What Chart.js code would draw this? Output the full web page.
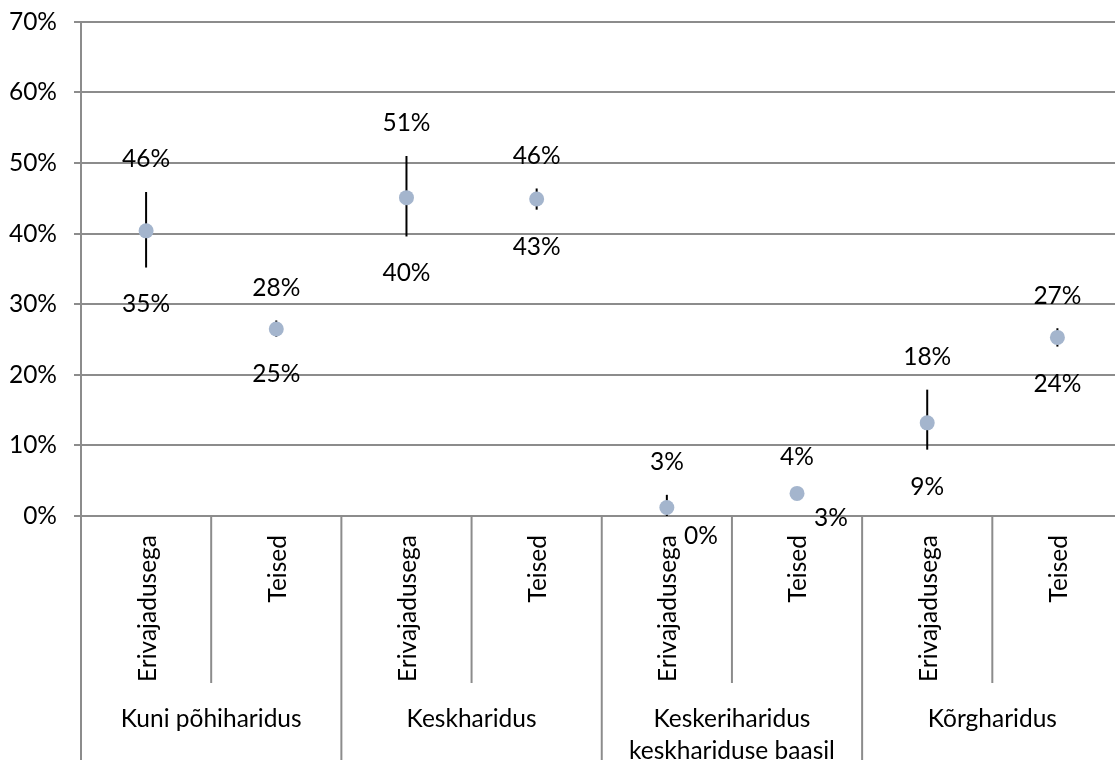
<!DOCTYPE html>
<html><head><meta charset="utf-8">
<script src="https://cdn.jsdelivr.net/npm/chart.js@4.4.1/dist/chart.umd.min.js"></script>
<style>html,body{margin:0;padding:0;overflow:hidden;background:#fff}
#wrap{position:relative;width:1130px;height:760px}</style></head>
<body><div id="wrap"><canvas id="c"></canvas></div>
<script>
// ---- data ----
const groups = [['Kuni põhiharidus'], ['Keskharidus'], ['Keskeriharidus', 'keskhariduse baasil'], ['Kõrgharidus']];
const subgroups = ['Erivajadusega', 'Teised'];
const values = [40.4, 26.5, 45.1, 44.9, 1.2, 3.2, 13.2, 25.3];
const upper  = [45.9, 27.7, 51.0, 46.4, 3.0, 3.8, 17.9, 26.6];
const lower  = [35.2, 25.4, 39.6, 43.4, 0.0, 2.6, 9.4, 24.0];
const yTicks = [0, 10, 20, 30, 40, 50, 60, 70];

const categories = [];
groups.forEach(g => subgroups.forEach(s => categories.push(g.join(' ') + ' – ' + s)));

const FSIZE = 24.5;
const FONT = FSIZE + 'px Lato';
const GRID = '#8c8c8c';

const deco = {
  id: 'deco',
  beforeDatasetsDraw(chart) {
    const {ctx, scales: {x, y}} = chart;
    ctx.save();
    ctx.strokeStyle = '#000';
    ctx.lineWidth = 2;
    values.forEach((v, i) => {
      const px = x.getPixelForValue(i);
      ctx.beginPath();
      ctx.moveTo(px, y.getPixelForValue(upper[i]));
      ctx.lineTo(px, y.getPixelForValue(lower[i]));
      ctx.stroke();
    });
    ctx.restore();
  },
  afterDraw(chart) {
    const {ctx, scales: {x, y}} = chart;
    const w = (x.right - x.left) / categories.length;
    const axisY = y.getPixelForValue(0);
    ctx.save();
    ctx.strokeStyle = GRID;
    ctx.lineWidth = 2;
    ctx.beginPath();
    ctx.moveTo(x.left, y.top);
    ctx.lineTo(x.left, chart.height);
    ctx.stroke();
    for (let k = 0; k <= categories.length; k++) {
      const bx = x.left + k * w;
      ctx.beginPath();
      ctx.moveTo(bx, axisY);
      ctx.lineTo(bx, k % 2 === 0 ? chart.height : axisY + 167);
      ctx.stroke();
    }
    ctx.fillStyle = '#000';
    ctx.font = FONT;
    categories.forEach((c, i) => {
      const px = x.getPixelForValue(i);
      ctx.save();
      ctx.translate(px + 1.5, axisY + 19);
      ctx.rotate(-Math.PI / 2);
      ctx.textAlign = 'right';
      ctx.textBaseline = 'middle';
      ctx.fillText(subgroups[i % subgroups.length], 0, 0);
      ctx.restore();
    });
    ctx.textAlign = 'center';
    ctx.textBaseline = 'middle';
    groups.forEach((g, gi) => {
      const cx = x.left + (gi * 2 + 1) * w;
      g.forEach((line, li) => ctx.fillText(line, cx, axisY + 203 + li * 32));
    });
    values.forEach((v, i) => {
      const px = x.getPixelForValue(i);
      const yU = y.getPixelForValue(upper[i]);
      const yL = y.getPixelForValue(lower[i]);
      ctx.fillText(Math.round(upper[i]) + '%', px, yU - 32.5);
      let lx = px, ly = yL + 37;
      if (ly > axisY - 8) { lx = px + 34; ly = yL + 20; }
      ctx.fillText(Math.round(lower[i]) + '%', lx, ly);
    });
    ctx.restore();
  }
};

new Chart(document.getElementById('c'), {
  type: 'line',
  data: {
    labels: categories,
    datasets: [{
      data: values,
      showLine: false,
      pointRadius: 7.5,
      pointHoverRadius: 7.5,
      pointBackgroundColor: '#a4b5cd',
      pointBorderWidth: 0
    }]
  },
  options: {
    responsive: true,
    maintainAspectRatio: false,
    animation: false,
    events: [],
    layout: {padding: {top: 0, right: 5, bottom: 244, left: 0}},
    plugins: {legend: {display: false}, tooltip: {enabled: false}},
    scales: {
      x: {display: false, offset: true},
      y: {
        min: 0, max: 70,
        afterBuildTicks: s => { s.ticks = yTicks.map(v => ({value: v})); },
        afterFit: s => { s.width = 81; },
        grid: {color: GRID, lineWidth: 2, tickLength: 7, drawTicks: true},
        border: {display: false},
        ticks: {
          padding: 17,
          color: '#000',
          font: {family: 'Lato', size: FSIZE, lineHeight: 0.4},
          callback: v => v + '%'
        }
      }
    }
  },
  plugins: [deco]
});
</script>
</body></html>
